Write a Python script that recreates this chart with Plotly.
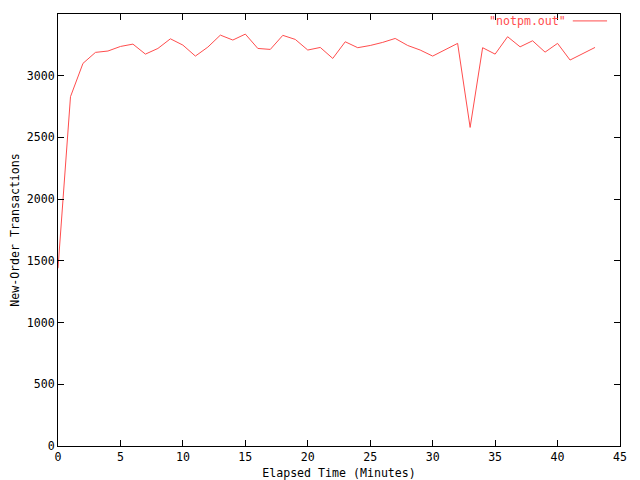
import plotly.graph_objects as go

minutes = list(range(0, 44))
notpm = [1440, 2830, 3100, 3189, 3200, 3237, 3256, 3175, 3221, 3299,
         3248, 3159, 3232, 3329, 3289, 3337, 3221, 3213, 3327, 3294,
         3208, 3229, 3140, 3275, 3227, 3245, 3270, 3302, 3245, 3208,
         3159, 3213, 3262, 2581, 3227, 3175, 3316, 3234, 3283, 3191,
         3262, 3127, 3181, 3229]

x_ticks = [0, 5, 10, 15, 20, 25, 30, 35, 40, 45]
y_ticks = [0, 500, 1000, 1500, 2000, 2500, 3000, 3500]

RED = "#ff4d4d"
FONT = "DejaVu Sans Mono"
FS = 11.6

fig = go.Figure()
fig.add_trace(go.Scatter(x=minutes, y=notpm, mode="lines",
                         line=dict(color=RED, width=1),
                         name='"notpm.out"', showlegend=False))

axis_common = dict(showline=True, linecolor="black", linewidth=1,
                   mirror="ticks", ticks="inside", ticklen=6,
                   tickcolor="black", tickwidth=1,
                   showgrid=False, zeroline=False, automargin=False,
                   tickfont=dict(family=FONT, size=FS, color="black"))

# page body has an 8px margin; figure sized/margined to compensate
fig.update_layout(
    width=632, height=472,
    margin=dict(l=50, r=20, t=6, b=34),
    plot_bgcolor="white", paper_bgcolor="white",
    font=dict(family=FONT, size=FS, color="black"),
    xaxis=dict(range=[0, 45], tickvals=x_ticks, **axis_common,
               title=dict(text="Elapsed Time (Minutes)", standoff=5,
                          font=dict(family=FONT, size=FS))),
    yaxis=dict(range=[0, 3500], tickvals=y_ticks, **axis_common,
               title=dict(text="New-Order Transactions", standoff=13,
                          font=dict(family=FONT, size=FS))),
)

# legend entry in gnuplot style: text then line sample
fig.add_annotation(x=0.907, y=0.984, xref="paper", yref="paper",
                   text='"notpm.out"', showarrow=False,
                   xanchor="right", yanchor="middle",
                   font=dict(family=FONT, size=FS, color=RED))
fig.add_shape(type="line", xref="paper", yref="paper",
              x0=0.916, x1=0.977, y0=0.984, y1=0.984,
              line=dict(color=RED, width=1))

fig.write_html("out.html")
